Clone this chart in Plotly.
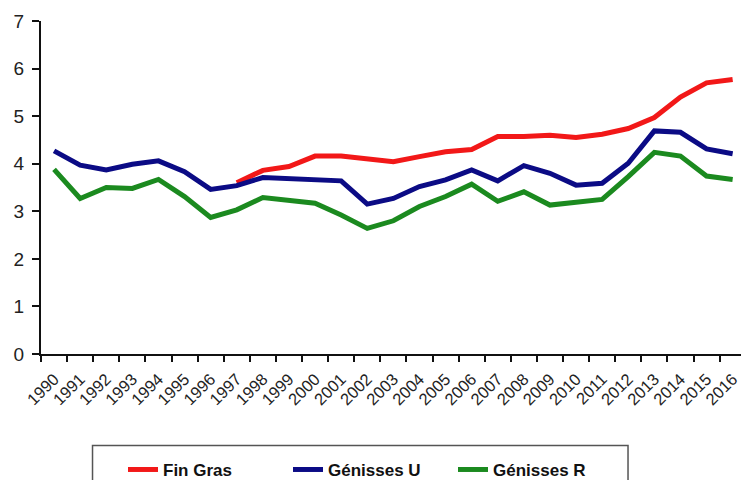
import plotly.graph_objects as go

years = [str(y) for y in range(1990, 2017)]

# Fin Gras starts in 1997
fin_gras = [None] * 7 + [3.60, 3.86, 3.94, 4.16, 4.16, 4.11, 4.04, 4.15, 4.25, 4.30,
                         4.57, 4.57, 4.60, 4.55, 4.62, 4.74, 4.97, 5.40, 5.70, 5.77]
genisses_u = [4.27, 3.97, 3.87, 3.99, 4.06, 3.83, 3.46, 3.54, 3.71, 3.68, 3.67, 3.64,
              3.15, 3.27, 3.52, 3.66, 3.87, 3.64, 3.96, 3.80, 3.55, 3.59, 4.01, 4.69,
              4.66, 4.31, 4.21]
genisses_r = [3.88, 3.27, 3.50, 3.48, 3.67, 3.31, 2.87, 3.03, 3.29, 3.24, 3.17, 2.92,
              2.64, 2.80, 3.10, 3.31, 3.57, 3.21, 3.41, 3.13, 3.18, 3.25, 3.73, 4.24,
              4.16, 3.74, 3.67]

series = [
    ("Fin Gras", fin_gras, "#f21818"),
    ("Génisses U", genisses_u, "#0b0b85"),
    ("Génisses R", genisses_r, "#1b8a1f"),
]

FONT = "Arial, 'Liberation Sans', sans-serif"

fig = go.Figure()
for name, vals, color in series:
    fig.add_trace(go.Scatter(
        x=years, y=vals, name=name, mode="lines",
        line=dict(color=color, width=5),
        connectgaps=False,
    ))

fig.update_layout(
    width=741, height=480,
    margin=dict(l=41, r=0, t=21, b=126),
    paper_bgcolor="white", plot_bgcolor="white",
    font=dict(family=FONT, color="#222"),
    showlegend=True,
    legend=dict(
        orientation="h",
        xref="container", yref="container",
        x=0.166, xanchor="left",
        y=0.021, yanchor="middle",
        font=dict(family=FONT, size=17, color="#111", weight="bold"),
        bgcolor="rgba(0,0,0,0)",
        entrywidth=120, entrywidthmode="pixels",
        tracegroupgap=0,
    ),
    xaxis=dict(
        type="category",
        range=[-0.5, 26.32],
        tickson="boundaries",
        ticks="outside", ticklen=6, tickwidth=1.5, tickcolor="#111",
        tickangle=-45,
        tickfont=dict(family=FONT, size=16.5, color="#222"),
        ticklabelstandoff=7,
        showline=True, linecolor="#111", linewidth=2,
        showgrid=False, zeroline=False,
    ),
    yaxis=dict(
        range=[0, 7], dtick=1,
        ticks="outside", ticklen=7, tickwidth=1.5, tickcolor="#111",
        tickfont=dict(family=FONT, size=19, color="#222"),
        showline=True, linecolor="#111", linewidth=2,
        showgrid=False, zeroline=False,
        ticklabelstandoff=4,
    ),
    shapes=[dict(
        type="rect", xref="paper", yref="paper",
        x0=0.0736, x1=0.8386, y0=-0.44, y1=-0.2751,
        line=dict(color="#555", width=1.5),
        fillcolor="rgba(0,0,0,0)", layer="above",
    )],
)

fig.write_html("out.html")
